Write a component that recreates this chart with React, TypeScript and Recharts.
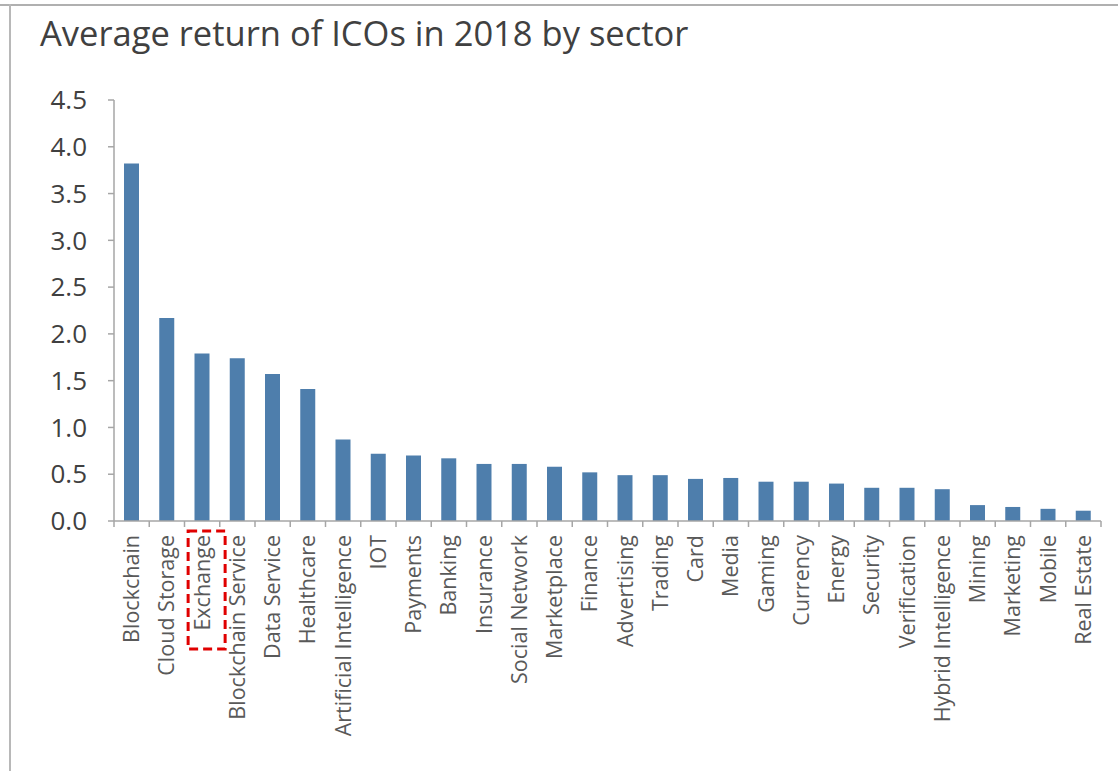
import React from "react";
import { BarChart, Bar, XAxis, YAxis } from "recharts";

const sectors = [
  "Blockchain", "Cloud Storage", "Exchange", "Blockchain Service", "Data Service", "Healthcare",
  "Artificial Intelligence", "IOT", "Payments", "Banking", "Insurance", "Social Network",
  "Marketplace", "Finance", "Advertising", "Trading", "Card", "Media", "Gaming", "Currency",
  "Energy", "Security", "Verification", "Hybrid Intelligence", "Mining", "Marketing", "Mobile",
  "Real Estate",
];
const returns = [
  3.82, 2.17, 1.79, 1.74, 1.57, 1.41, 0.87, 0.72, 0.70, 0.67, 0.61, 0.61, 0.58, 0.52, 0.49,
  0.49, 0.45, 0.46, 0.42, 0.42, 0.40, 0.355, 0.355, 0.34, 0.17, 0.15, 0.13, 0.11,
];
const yTicks = [0, 0.5, 1, 1.5, 2, 2.5, 3, 3.5, 4, 4.5];
const highlighted = "Exchange";

const data = sectors.map((s, i) => ({ sector: s, value: returns[i] }));

const W = 1118;
const H = 771;
const XH = 250;
const M = { top: 100, right: 17, bottom: 0, left: 0 };
const YW = 114;
const FONT = "'Open Sans', 'Noto Sans', sans-serif";
const AXIS = "#a6a6a6";

const plotW = W - M.left - M.right - YW;
const band = plotW / sectors.length;

const XTick = (props: any) => {
  const { x, y, payload, index } = props;
  const isHi = payload.value === highlighted;
  return (
    <g transform={`translate(${x},${y})`}>
      <line x1={-band / 2} x2={-band / 2} y1={0} y2={6} stroke={AXIS} strokeWidth={1.5} />
      {index === sectors.length - 1 && (
        <line x1={band / 2} x2={band / 2} y1={0} y2={6} stroke={AXIS} strokeWidth={1.5} />
      )}
      <text
        transform="rotate(-90)"
        x={-14}
        y={0}
        dy="0.35em"
        textAnchor="end"
        fill="#595959"
        fontSize={21.5}
        fontFamily={FONT}
      >
        {payload.value}
      </text>
      {isHi && (
        <rect
          x={-14}
          y={10}
          width={37}
          height={118}
          fill="none"
          stroke="#e00000"
          strokeWidth={3}
          strokeDasharray="9 5"
        />
      )}
    </g>
  );
};

export default function App() {
  return (
    <div style={{ position: "absolute", left: 0, top: 0, width: W, height: H, background: "#fff" }}>
      <div style={{ position: "absolute", left: 0, top: 4, width: W, height: 2, background: "#b0b0b0" }} />
      <div style={{ position: "absolute", left: 9, top: 4, width: 2, height: H - 4, background: "#b8b8b8" }} />
      <div
        style={{
          position: "absolute",
          left: 40,
          top: 9,
          fontFamily: FONT,
          fontSize: 34.5,
          color: "#404040",
          whiteSpace: "nowrap",
          zIndex: 2,
        }}
      >
        Average return of ICOs in 2018 by sector
      </div>
      <BarChart width={W} height={H} data={data} margin={M} barCategoryGap={0}>
        <YAxis
          type="number"
          domain={[0, 4.5]}
          ticks={yTicks}
          interval={0}
          width={YW}
          tickFormatter={(v: number) => v.toFixed(1)}
          axisLine={{ stroke: AXIS, strokeWidth: 1.5 }}
          tickLine={{ stroke: AXIS, strokeWidth: 1.5 }}
          tickSize={6}
          tickMargin={21}
          tick={{ fill: "#404040", fontSize: 26, fontFamily: FONT }}
        />
        <XAxis
          dataKey="sector"
          type="category"
          interval={0}
          axisLine={{ stroke: AXIS, strokeWidth: 1.5 }}
          tickLine={false}
          tickSize={0}
          tickMargin={0}
          tick={<XTick />}
          height={XH}
        />
        <Bar dataKey="value" fill="#4e7eac" barSize={15} isAnimationActive={false} />
      </BarChart>
    </div>
  );
}
